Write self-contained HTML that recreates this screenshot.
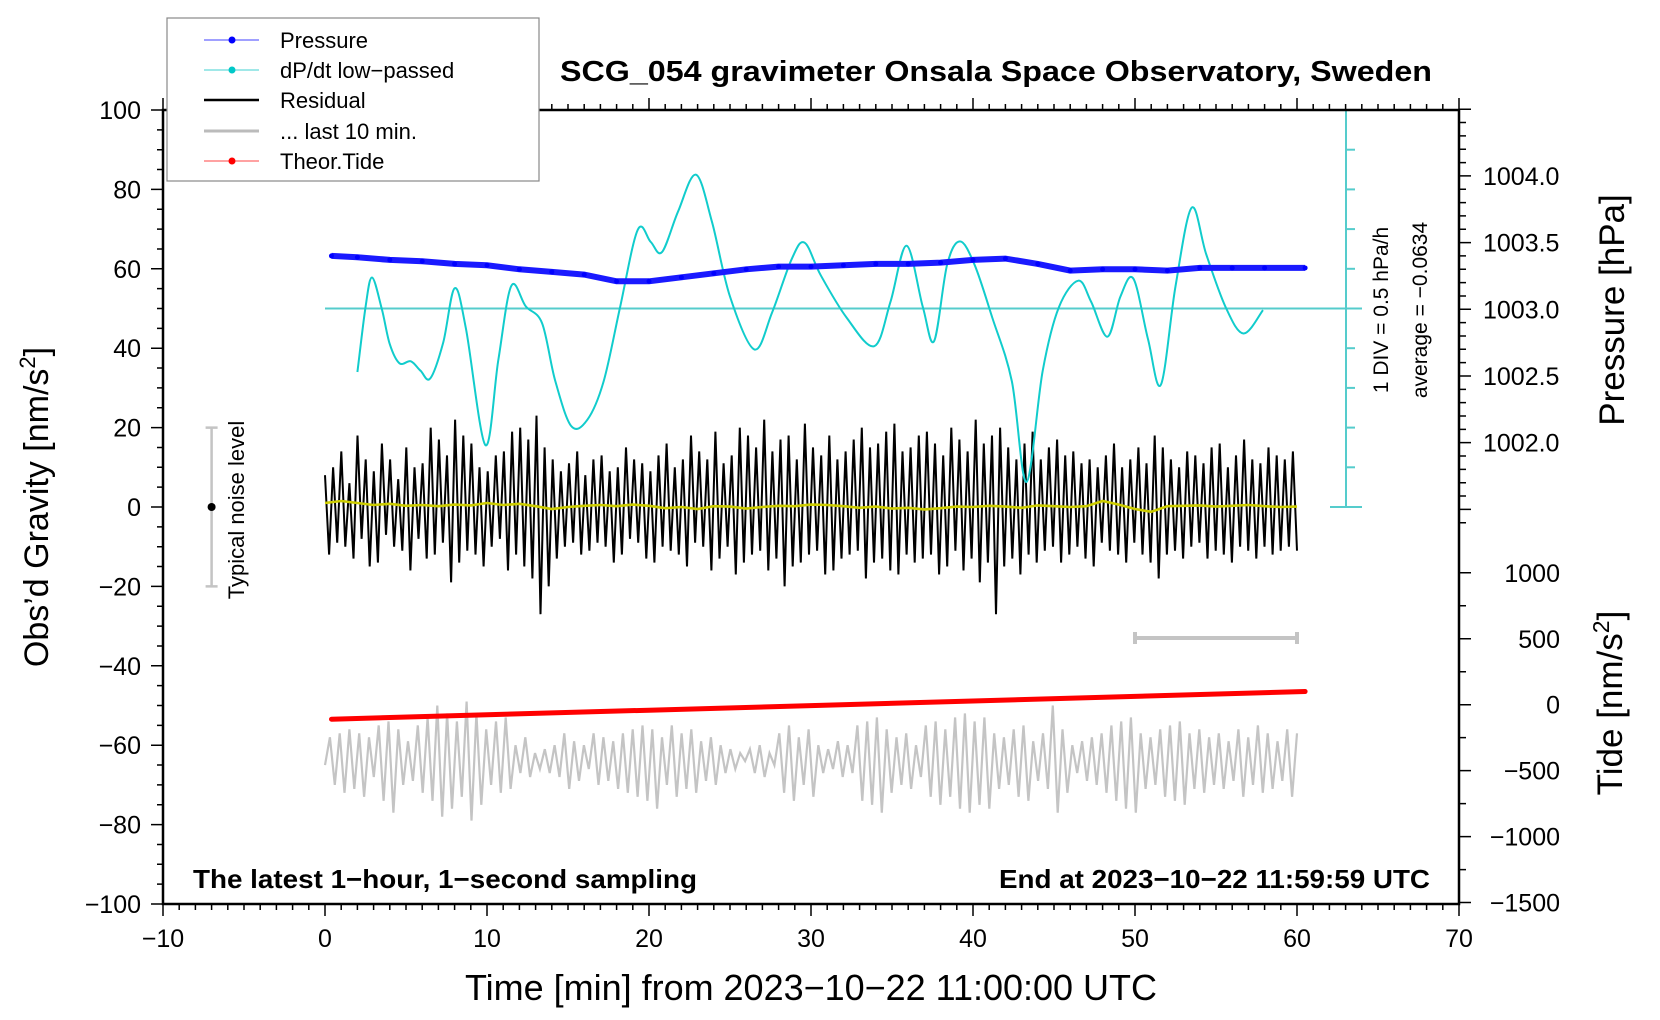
<!DOCTYPE html>
<html><head><meta charset="utf-8"><style>
html,body{margin:0;padding:0;background:#fff;}
svg{display:block;font-family:"Liberation Sans",sans-serif;}
</style></head><body>
<svg id="chart" width="1660" height="1020" viewBox="0 0 1660 1020">
<rect x="0" y="0" width="1660" height="1020" fill="#fff"/>
<g id="marks"></g>
<g id="axes"></g>
<text x="996" y="81" text-anchor="middle" font-size="29" font-weight="bold" textLength="872" lengthAdjust="spacingAndGlyphs">SCG_054 gravimeter Onsala Space Observatory, Sweden</text>
<text x="193" y="888" font-size="26" font-weight="bold" textLength="504" lengthAdjust="spacingAndGlyphs">The latest 1−hour, 1−second sampling</text>
<text x="1430" y="888" text-anchor="end" font-size="26" font-weight="bold" textLength="431" lengthAdjust="spacingAndGlyphs">End at 2023−10−22 11:59:59 UTC</text>
<text x="811" y="1000" text-anchor="middle" font-size="36" textLength="692" lengthAdjust="spacingAndGlyphs">Time [min] from 2023−10−22 11:00:00 UTC</text>
<text transform="translate(48,507) rotate(-90)" text-anchor="middle" font-size="34">Obs’d Gravity [nm/s<tspan dy="-13" font-size="22">2</tspan><tspan dy="13">]</tspan></text>
<text transform="translate(1624,310) rotate(-90)" text-anchor="middle" font-size="35">Pressure [hPa]</text>
<text transform="translate(1622,703) rotate(-90)" text-anchor="middle" font-size="35">Tide [nm/s<tspan dy="-13" font-size="23">2</tspan><tspan dy="13">]</tspan></text>
<text transform="translate(1388,310) rotate(-90)" text-anchor="middle" font-size="21">1 DIV = 0.5 hPa/h</text>
<text transform="translate(1427,310) rotate(-90)" text-anchor="middle" font-size="21">average = −0.0634</text>
<text transform="translate(244,510) rotate(-90)" text-anchor="middle" font-size="22">Typical noise level</text>
<g>
<rect x="167" y="18" width="372" height="163" fill="#fff" stroke="#888" stroke-width="1.2"/>
<g><line x1="204" y1="40" x2="259" y2="40" stroke="#4040ff" stroke-width="1"/><circle cx="232" cy="40" r="3.5" fill="#00f"/><text x="280" y="48" font-size="22">Pressure</text></g>
<g><line x1="204" y1="70" x2="259" y2="70" stroke="#40d0d0" stroke-width="1"/><circle cx="232" cy="70" r="3.5" fill="#00c8c8"/><text x="280" y="78" font-size="22">dP/dt low−passed</text></g>
<g><line x1="204" y1="100" x2="259" y2="100" stroke="#000" stroke-width="2.5"/><text x="280" y="108" font-size="22">Residual</text></g>
<g><line x1="204" y1="131" x2="259" y2="131" stroke="#bbb" stroke-width="3"/><text x="280" y="139" font-size="22">... last 10 min.</text></g>
<g><line x1="204" y1="161" x2="259" y2="161" stroke="#f44" stroke-width="1"/><circle cx="232" cy="161" r="3.5" fill="#f00"/><text x="280" y="169" font-size="22">Theor.Tide</text></g>
</g>
</svg>
<script>
// ---- data ----
const pressureTimes = [0.4,2,4,6,8,10,12,14,16,18,20,22,24,26,28,30,32,34,36,38,40,42,44,46,48,50,52,54,56,58,60.5];
const pressureValues = [1003.40,1003.39,1003.37,1003.36,1003.34,1003.33,1003.30,1003.28,1003.26,1003.21,1003.21,1003.24,1003.27,1003.30,1003.32,1003.32,1003.33,1003.34,1003.34,1003.35,1003.37,1003.38,1003.34,1003.29,1003.30,1003.30,1003.29,1003.31,1003.31,1003.31,1003.31];
const dpdtTimes = [2.0,2.5,2.9,3.5,4.0,4.6,5.3,5.9,6.5,7.3,8.0,8.7,9.9,10.7,11.5,12.4,13.4,14.2,15.2,16.2,17.2,18.2,19.3,20.1,20.8,21.8,22.9,23.9,25.0,26.5,27.6,28.8,29.6,30.6,32.2,33.9,34.9,35.9,36.9,37.6,38.4,39.2,40.1,41.2,42.4,43.3,44.3,45.3,46.5,47.3,48.3,49.1,49.9,50.8,51.6,52.5,53.5,54.4,55.6,56.7,57.9];
const dpdtValues = [34,50.3,57.8,50,41,36.2,36.7,34.3,32.4,41.5,55.1,45,15.6,37,55.7,50.5,46.3,32,20.4,22,31.6,50,69.8,66.8,64.2,74.5,83.7,71.6,53,39.7,49,62.4,66.6,58.4,47.7,40.5,51.6,65.8,50.4,41.8,61,66.9,61,47.6,31.6,6.3,34.3,50.3,57,51.6,42.9,53,57.5,42.3,30.8,55.6,75.4,63.6,50.3,43.7,49.6];
const residualValues = [8,-12,10,-9,14,-10,6,-13,18,-8,12,-15,9,-14,16,-7,12,-10,7,-11,15,-16,10,-8,11,-13,20,-12,17,-9,13,-19,22,-14,18,-11,16,-12,10,-15,9,-10,13,-8,14,-16,19,-12,20,-15,17,-18,23,-27,15,-20,12,-13,9,-10,11,-9,14,-12,8,-11,12,-9,13,-10,9,-14,10,-12,15,-8,12,-9,11,-13,9,-14,13,-10,16,-11,10,-12,12,-15,18,-9,14,-10,12,-16,19,-13,11,-10,13,-17,20,-14,18,-12,15,-11,22,-16,14,-13,17,-20,18,-15,12,-14,21,-12,15,-11,13,-17,18,-16,12,-13,14,-12,17,-11,20,-18,15,-14,16,-13,19,-16,21,-17,14,-12,15,-14,18,-13,19,-12,16,-17,13,-15,20,-11,17,-16,14,-13,22,-19,16,-14,18,-27,20,-15,15,-13,12,-17,16,-12,19,-14,12,-11,15,-10,17,-14,13,-12,14,-10,11,-13,12,-15,10,-9,13,-11,16,-12,10,-14,12,-9,15,-12,11,-14,18,-18,15,-12,12,-11,10,-13,14,-10,13,-9,11,-13,15,-11,16,-12,10,-14,13,-10,17,-11,12,-13,11,-10,15,-12,13,-11,12,-10,14,-11];
const smoothValues = [1,1.5,1,0.5,0.8,0.3,0.5,0.2,0.6,0.4,1,0.5,0.8,0.2,-0.5,0,0.3,0.5,0.2,0.6,0.3,-0.3,0,-0.5,0.2,0.1,-0.4,0,0.3,0.2,0.6,0.5,0.2,-0.2,0.1,-0.4,-0.2,-0.6,-0.3,0.1,0,0.3,0.1,-0.2,0.4,0.2,0,0.2,1.5,0.6,-0.5,-1.2,0.2,0.3,0.4,0.1,0.3,0.5,0.2,0,0.1];
const last10Values = [-65,-58,-70,-57,-72,-56,-71,-57,-73,-58,-68,-55,-74,-54,-77,-56,-70,-59,-69,-55,-72,-53,-74,-50,-78,-52,-76,-54,-73,-49,-79,-52,-75,-56,-70,-54,-72,-53,-71,-60,-67,-58,-68,-62,-66,-61,-67,-60,-68,-57,-71,-59,-69,-60,-66,-57,-70,-58,-69,-59,-71,-57,-72,-56,-73,-55,-74,-56,-76,-58,-70,-55,-73,-57,-71,-56,-72,-59,-69,-58,-70,-60,-67,-61,-66,-62,-64,-61,-67,-60,-68,-62,-65,-57,-72,-55,-74,-58,-70,-56,-73,-60,-67,-61,-66,-59,-68,-60,-67,-55,-74,-54,-75,-53,-77,-56,-72,-58,-70,-57,-71,-60,-68,-55,-73,-54,-75,-56,-73,-53,-76,-52,-77,-54,-75,-53,-76,-57,-71,-58,-70,-56,-73,-55,-74,-59,-69,-57,-71,-50,-77,-56,-72,-60,-67,-59,-69,-58,-70,-57,-72,-55,-74,-54,-76,-53,-77,-57,-71,-58,-70,-56,-73,-55,-74,-54,-75,-57,-71,-56,-72,-58,-70,-57,-71,-59,-69,-56,-73,-58,-70,-55,-72,-57,-71,-59,-69,-56,-73,-57];
const tideTimes = [0.4,10,20,30,40,50,60.5];
const tideValues = [-110,-76,-42,-7,28,63,100];
const xTicks = [-10,0,10,20,30,40,50,60,70];
const yTicks = [-100,-80,-60,-40,-20,0,20,40,60,80,100];
const pTicks = ["1002.0","1002.5","1003.0","1003.5","1004.0"];
const tideTicks = [-1500,-1000,-500,0,500,1000];

// ---- scales ----
const X = t => 163 + (t + 10) * 16.2;
const Y = g => 110 + (100 - g) * 3.97;
const YP = p => Y(49.8 + (p - 1003) * 33.6);
const YT = v => Y(-49.8 + v / 30.1);
const NS = "http://www.w3.org/2000/svg";
const marks = document.getElementById('marks');
const axes = document.getElementById('axes');
function mk(tag, attrs, parent) {
  const e = document.createElementNS(NS, tag);
  for (const k in attrs) e.setAttribute(k, attrs[k]);
  parent.appendChild(e);
  return e;
}
function poly(pts) { return pts.map(p => p[0].toFixed(1) + ',' + p[1].toFixed(1)).join(' '); }
function smoothPath(pts) {
  let d = 'M' + pts[0][0] + ',' + pts[0][1];
  for (let i = 0; i < pts.length - 1; i++) {
    const p0 = pts[Math.max(0, i - 1)], p1 = pts[i], p2 = pts[i + 1], p3 = pts[Math.min(pts.length - 1, i + 2)];
    const c1x = p1[0] + (p2[0] - p0[0]) / 6, c1y = p1[1] + (p2[1] - p0[1]) / 6;
    const c2x = p2[0] - (p3[0] - p1[0]) / 6, c2y = p2[1] - (p3[1] - p1[1]) / 6;
    d += ' C' + c1x.toFixed(1) + ',' + c1y.toFixed(1) + ' ' + c2x.toFixed(1) + ',' + c2y.toFixed(1) + ' ' + p2[0].toFixed(1) + ',' + p2[1].toFixed(1);
  }
  return d;
}

// dP/dt scale bar & baseline
const cx = 1346;
let e = mk('line', {x1: X(0), y1: Y(50), x2: 1362, y2: Y(50), stroke: '#5cc', 'stroke-width': 2}, marks);


e = mk('line', {x1: cx, y1: Y(100), x2: cx, y2: Y(0), stroke: '#5cc', 'stroke-width': 2}, marks);


for (let g = 0; g <= 100; g += 10) {
  const end = (g === 0 || g === 100);
  e = mk('line', {x1: end ? 1330 : cx, y1: Y(g), x2: end ? 1362 : cx + 9, y2: Y(g), stroke: '#5cc', 'stroke-width': 2}, marks);
  
  
}

// last 10 min (gray)
e = mk('polyline', {points: poly(last10Values.map((v, i) => [X(i * 60 / (last10Values.length - 1)), Y(v)])), fill: 'none', stroke: '#c4c4c4', 'stroke-width': 2.2}, marks);


// tide
e = mk('polyline', {points: poly(tideTimes.map((t, i) => [X(t), YT(tideValues[i])])), fill: 'none', stroke: '#f00', 'stroke-width': 5, 'stroke-linecap': 'round'}, marks);


// gray scale bar
e = mk('path', {d: 'M' + X(50) + ',' + Y(-33) + 'H' + X(60) + 'M' + X(50) + ',' + (Y(-33) - 6) + 'V' + (Y(-33) + 6) + 'M' + X(60) + ',' + (Y(-33) - 6) + 'V' + (Y(-33) + 6), stroke: '#c4c4c4', 'stroke-width': 4, fill: 'none'}, marks);


// residual
e = mk('polyline', {points: poly(residualValues.map((v, i) => [X(i * 60 / (residualValues.length - 1)), Y(v)])), fill: 'none', stroke: '#000', 'stroke-width': 2}, marks);


// smoothed residual
e = mk('polyline', {points: poly(smoothValues.map((v, i) => [X(i), Y(v)])), fill: 'none', stroke: '#cc0', 'stroke-width': 2.6}, marks);


// dP/dt
e = mk('path', {d: smoothPath(dpdtTimes.map((t, i) => [X(t), Y(dpdtValues[i])])), fill: 'none', stroke: '#1cc', 'stroke-width': 2}, marks);


// pressure
e = mk('polyline', {points: poly(pressureTimes.map((t, i) => [X(t), YP(pressureValues[i])])), fill: 'none', stroke: '#1a1aff', 'stroke-width': 6}, marks);


pressureTimes.forEach((t, i) => {
  const c = mk('circle', {cx: X(t), cy: YP(pressureValues[i]), r: 2.5, fill: '#00f'}, marks);
  
  
});
// noise level marker
e = mk('path', {d: 'M' + X(-7) + ',' + Y(20) + 'V' + Y(-20) + 'M' + (X(-7) - 6) + ',' + Y(20) + 'h12M' + (X(-7) - 6) + ',' + Y(-20) + 'h12', stroke: '#c4c4c4', 'stroke-width': 2.5, fill: 'none'}, marks);


e = mk('circle', {cx: X(-7), cy: Y(0), r: 4, fill: '#000'}, marks);



// ---- axes ----
const L = X(-10), R = X(70), T = Y(100), B = Y(-100);
e = mk('rect', {x: L, y: T, width: R - L, height: B - T, fill: 'none', stroke: '#000', 'stroke-width': 2.5}, axes);


let d = '';
for (let t = -10; t <= 70; t++) {
  const len = t % 10 === 0 ? 12 : 6;
  d += 'M' + X(t) + ',' + B + 'v' + len + 'M' + X(t) + ',' + T + 'v' + (-len);
}
for (let g = -100; g <= 100; g += 5) {
  const len = g % 20 === 0 ? 12 : 6;
  d += 'M' + L + ',' + Y(g) + 'h' + (-len);
}
for (let p = 14; p <= 45; p++) {
  const len = p % 5 === 0 ? 12 : 7;
  d += 'M' + R + ',' + YP(1000 + p / 10) + 'h' + len;
}
for (let v = -1500; v <= 1000; v += 250) {
  const len = v % 500 === 0 ? 12 : 7;
  d += 'M' + R + ',' + YT(v) + 'h' + len;
}
e = mk('path', {d: d, stroke: '#000', 'stroke-width': 1.5, fill: 'none'}, axes);


xTicks.forEach(t => {
  const s = mk('text', {x: X(t), y: 947, 'text-anchor': 'middle', 'font-size': 25}, axes);
  s.textContent = t < 0 ? '−' + (-t) : t;
  
  
});
yTicks.forEach(g => {
  const s = mk('text', {x: 141, y: Y(g) + 9, 'text-anchor': 'end', 'font-size': 25}, axes);
  s.textContent = g < 0 ? '−' + (-g) : g;
  
  
});
pTicks.forEach(p => {
  const s = mk('text', {x: 1483, y: YP(parseFloat(p)) + 9, 'font-size': 25}, axes);
  s.textContent = p;
  
  
});
tideTicks.forEach(v => {
  const s = mk('text', {x: 1560, y: YT(v) + 9, 'text-anchor': 'end', 'font-size': 25}, axes);
  s.textContent = v < 0 ? '−' + (-v) : v;
  
  
});
</script>
</body></html>
